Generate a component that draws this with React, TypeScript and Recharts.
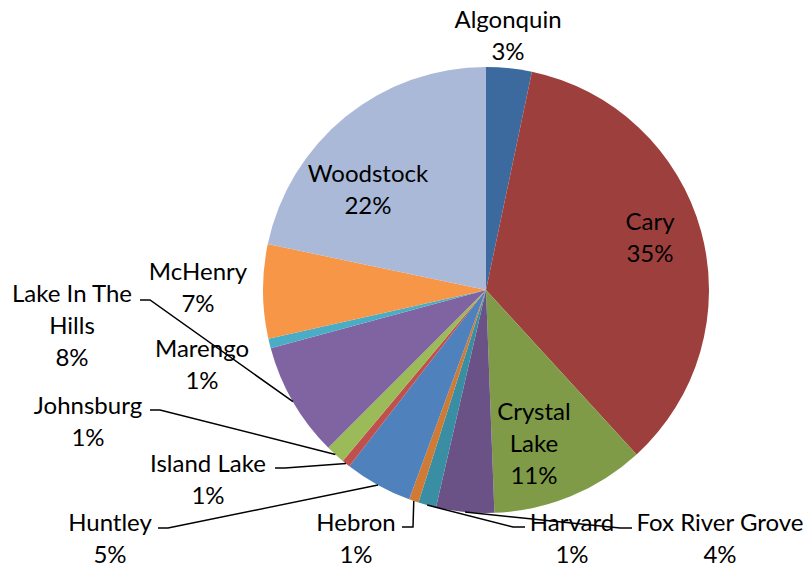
import React from "react";
import { PieChart, Pie, Cell } from "recharts";

// towns, in clockwise order starting at 12 o'clock
const towns = [
  "Algonquin",
  "Cary",
  "Crystal Lake",
  "Fox River Grove",
  "Harvard",
  "Hebron",
  "Huntley",
  "Island Lake",
  "Johnsburg",
  "Lake In The Hills",
  "Marengo",
  "McHenry",
  "Woodstock",
];

// share in percent
const shares = [3.3, 34.9, 11.2, 4.2, 1.3, 0.7, 4.9, 0.6, 1.4, 8.3, 0.7, 6.8, 21.7];

const colors = [
  "#3D6A9E",
  "#9D403D",
  "#7F9B47",
  "#6A5186",
  "#3A8EA3",
  "#D07B35",
  "#4F81BD",
  "#C0504D",
  "#9BBB59",
  "#8064A2",
  "#4BACC6",
  "#F79646",
  "#A9B9D7",
];

const data = towns.map((name, i) => ({ name, value: shares[i] }));

// where each data label sits (Excel had them dragged by hand)
type LabelSpot = { x: number; y: number; lines?: string[]; elbow?: [number, number]; end?: number };
const labelSpots: Record<string, LabelSpot> = {
  Algonquin: { x: 508, y: 18 },
  Cary: { x: 650, y: 220 },
  "Crystal Lake": { x: 534, y: 410, lines: ["Crystal", "Lake"] },
  "Fox River Grove": { x: 720, y: 521, elbow: [620, 528], end: 632 },
  Harvard: { x: 572, y: 521, elbow: [513, 527], end: 525 },
  Hebron: { x: 356, y: 521, elbow: [413, 527], end: 402 },
  Huntley: { x: 110, y: 521, elbow: [168, 528], end: 158 },
  "Island Lake": { x: 208, y: 462, elbow: [285, 468], end: 275 },
  Johnsburg: { x: 88, y: 404, elbow: [160, 410], end: 150 },
  "Lake In The Hills": { x: 72, y: 292, lines: ["Lake In The", "Hills"], elbow: [150, 300], end: 140 },
  Marengo: { x: 202, y: 347 },
  McHenry: { x: 198, y: 270 },
  Woodstock: { x: 368, y: 172 },
};

const RAD = Math.PI / 180;
const LINE_H = 32;

const renderLabel = (props: any) => {
  const { cx, cy, midAngle, outerRadius, name, value } = props;
  const spot = labelSpots[name];
  if (!spot) return null;
  const lines = [...(spot.lines ?? [name]), `${Math.round(value)}%`];
  let leader = null;
  if (spot.elbow) {
    const ax = cx + outerRadius * Math.cos(-midAngle * RAD);
    const ay = cy + outerRadius * Math.sin(-midAngle * RAD);
    const [ex, ey] = spot.elbow;
    leader = (
      <polyline
        points={`${ax},${ay} ${ex},${ey} ${spot.end},${ey}`}
        fill="none"
        stroke="#000"
        strokeWidth={1.5}
      />
    );
  }
  return (
    <g>
      {leader}
      {lines.map((t, i) => (
        <text
          key={i}
          x={spot.x}
          y={spot.y + i * LINE_H}
          textAnchor="middle"
          dominantBaseline="central"
          fill="#000"
          fontSize={24}
          fontFamily="Lato, 'Open Sans', sans-serif"
        >
          {t}
        </text>
      ))}
    </g>
  );
};

export default function App() {
  return (
    <div style={{ position: "absolute", left: 0, top: 0, background: "#fff" }}>
      <PieChart width={807} height={567} margin={{ top: 0, right: 0, bottom: 0, left: 0 }}>
        <Pie
          data={data}
          dataKey="value"
          nameKey="name"
          cx={486}
          cy={290}
          outerRadius={223}
          startAngle={90}
          endAngle={-270}
          stroke="none"
          label={renderLabel}
          labelLine={false}
          isAnimationActive={false}
        >
          {data.map((d, i) => (
            <Cell key={d.name} fill={colors[i]} />
          ))}
        </Pie>
      </PieChart>
    </div>
  );
}
